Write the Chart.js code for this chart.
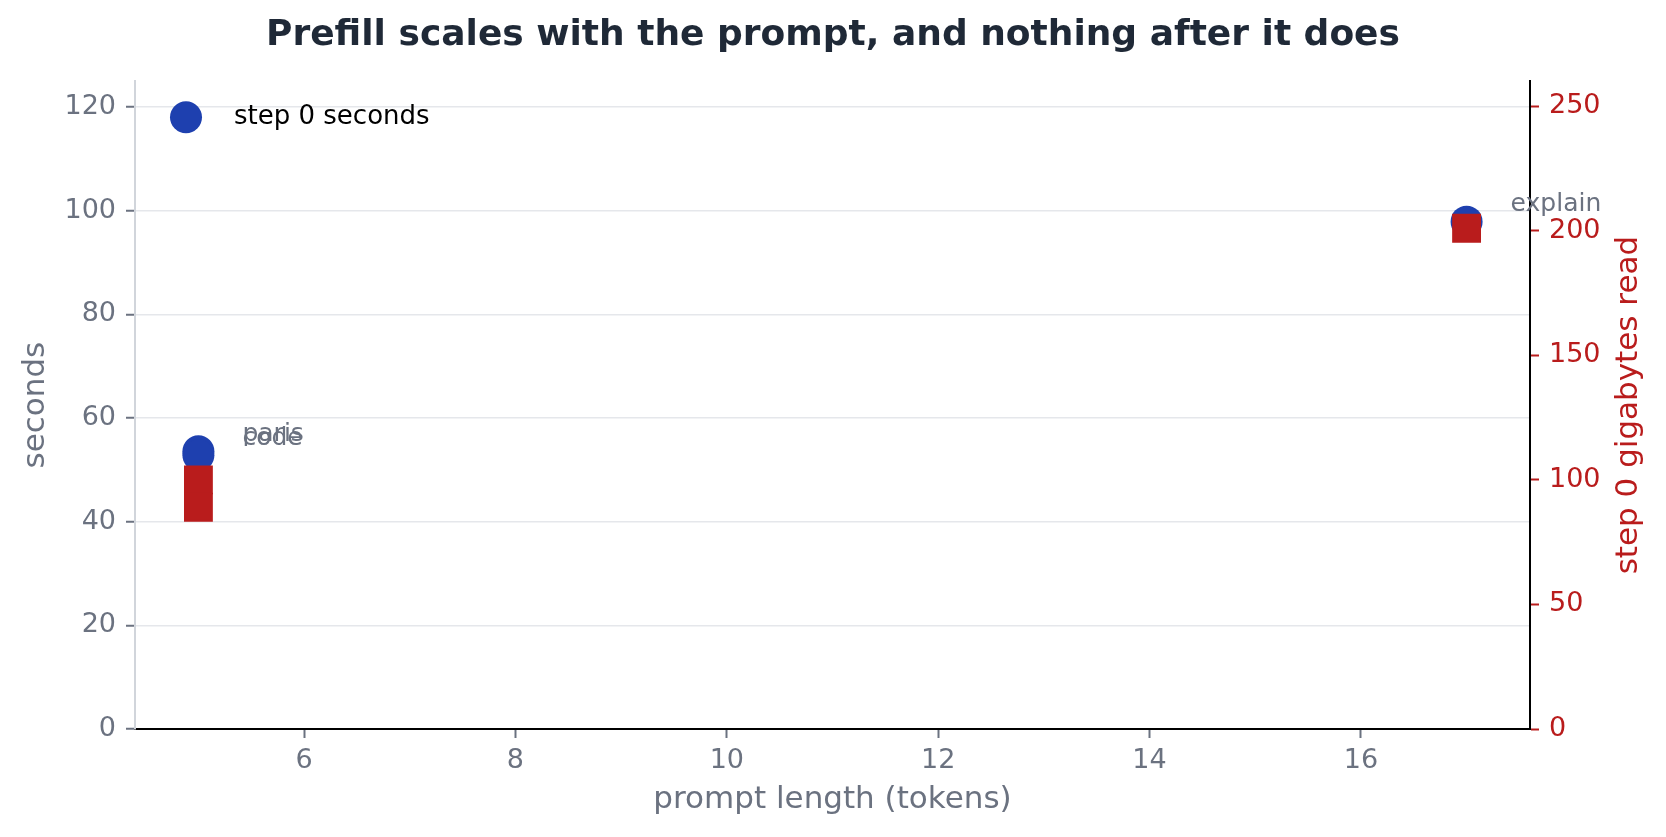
<!DOCTYPE html>
<html>
<head>
<meta charset="utf-8">
<title>Prefill scales with the prompt</title>
<script src="https://cdn.jsdelivr.net/npm/chart.js@4.4.1/dist/chart.umd.min.js"></script>
<style>
  html, body { margin: 0; padding: 0; background: #fff; }
  canvas { display: block; }
</style>
</head>
<body>
<canvas id="chart" width="1666" height="837"></canvas>
<script>
// the three prompts and what step 0 cost for each
const promptNames = ['paris', 'code', 'explain'];
const promptTokens = [5, 5, 17];
const stepSeconds = [53.6, 52.8, 97.9];
const stepGigabytes = [100, 89, 201];

// ticks shown on each axis
const tokenTicks = [6, 8, 10, 12, 14, 16];
const secondTicks = [0, 20, 40, 60, 80, 100, 120];
const gigabyteTicks = [0, 50, 100, 150, 200, 250];

const BLUE = '#1e40af';
const RED = '#b91c1c';
const GREY = '#6b7280';
const FONT = '"DejaVu Sans", "Liberation Sans", sans-serif';

Chart.defaults.font.family = FONT;
Chart.defaults.color = GREY;

const toPoints = (ys) => promptTokens.map((x, i) => ({ x: x, y: ys[i] }));
const fixTicks = (values) => (scale) => { scale.ticks = values.map(v => ({ value: v })); };

// prompt names next to the blue points
const pointNames = {
  id: 'pointNames',
  afterDatasetsDraw(chart) {
    const ctx = chart.ctx;
    const meta = chart.getDatasetMeta(0);
    ctx.save();
    ctx.font = '25px ' + FONT;
    ctx.fillStyle = GREY;
    ctx.textAlign = 'left';
    ctx.textBaseline = 'middle';
    meta.data.forEach((pt, i) => ctx.fillText(promptNames[i], pt.x + 44, pt.y - 17));
    ctx.restore();
  }
};

// legend inside the plot, only the seconds series
const seriesKey = {
  id: 'seriesKey',
  afterDraw(chart) {
    const ctx = chart.ctx;
    const area = chart.chartArea;
    const ds = chart.data.datasets[0];
    const cx = area.left + 51, cy = area.top + 36;
    ctx.save();
    ctx.fillStyle = ds.pointBackgroundColor;
    ctx.beginPath();
    ctx.arc(cx, cy, 16, 0, Math.PI * 2);
    ctx.fill();
    ctx.font = '26px ' + FONT;
    ctx.fillStyle = '#000';
    ctx.textAlign = 'left';
    ctx.textBaseline = 'middle';
    ctx.fillText(ds.label, cx + 48, cy);
    ctx.restore();
  }
};

// right axis title, reading bottom to top
const rightTitle = {
  id: 'rightTitle',
  afterDraw(chart) {
    const ctx = chart.ctx;
    const area = chart.chartArea;
    ctx.save();
    ctx.translate(1629, (area.top + area.bottom) / 2);
    ctx.rotate(-Math.PI / 2);
    ctx.font = '31px ' + FONT;
    ctx.fillStyle = RED;
    ctx.textAlign = 'center';
    ctx.textBaseline = 'middle';
    ctx.fillText(chart.data.datasets[1].label, 0, 0);
    ctx.restore();
  }
};

new Chart(document.getElementById('chart'), {
  type: 'scatter',
  data: {
    datasets: [
      {
        label: 'step 0 seconds',
        data: toPoints(stepSeconds),
        yAxisID: 'y',
        pointStyle: 'circle',
        pointBackgroundColor: BLUE,
        pointBorderColor: BLUE,
        pointBorderWidth: 0,
        pointRadius: 16,
        pointHoverRadius: 16,
        order: 1
      },
      {
        label: 'step 0 gigabytes read',
        data: toPoints(stepGigabytes),
        yAxisID: 'y1',
        pointStyle: 'rect',
        pointBackgroundColor: RED,
        pointBorderColor: RED,
        pointBorderWidth: 2,
        pointRadius: 19,
        pointHoverRadius: 19,
        order: 0
      }
    ]
  },
  options: {
    responsive: false,
    animation: false,
    devicePixelRatio: 1,
    layout: { padding: 0 },
    plugins: {
      legend: { display: false },
      tooltip: { enabled: false },
      title: {
        display: true,
        text: 'Prefill scales with the prompt, and nothing after it does',
        color: '#1f2937',
        font: { size: 36, weight: 'bold' },
        padding: { top: 14, bottom: 24 }
      }
    },
    scales: {
      x: {
        type: 'linear',
        position: 'bottom',
        min: 4.4,
        max: 17.6,
        afterBuildTicks: fixTicks(tokenTicks),
        afterFit: (s) => { s.height = 108; },
        grid: { drawOnChartArea: false, drawTicks: true, tickLength: 9, tickWidth: 2, tickColor: GREY },
        border: { color: '#000', width: 2 },
        ticks: { color: GREY, font: { size: 27 }, padding: 7, maxRotation: 0 },
        title: {
          display: true,
          text: 'prompt length (tokens)',
          color: GREY,
          font: { size: 31 },
          padding: { top: 0, bottom: 18 }
        }
      },
      y: {
        position: 'left',
        min: 0,
        max: 125,
        afterBuildTicks: fixTicks(secondTicks),
        afterFit: (s) => { s.width = 135; },
        grid: {
          color: (c) => (c.tick && c.tick.value === 0 ? 'rgba(0,0,0,0)' : '#e5e7eb'),
          lineWidth: 1.5,
          tickLength: 9,
          tickWidth: 2,
          tickColor: GREY
        },
        border: { color: '#d1d5db', width: 2 },
        ticks: { color: GREY, font: { size: 27 }, padding: 10 },
        title: {
          display: true,
          text: 'seconds',
          color: GREY,
          font: { size: 31 },
          padding: { top: 17, bottom: 0 }
        }
      },
      y1: {
        position: 'right',
        min: 0,
        max: 260,
        afterBuildTicks: fixTicks(gigabyteTicks),
        afterFit: (s) => { s.width = 136; },
        grid: { drawOnChartArea: false, tickLength: 9, tickWidth: 2, tickColor: RED },
        border: { color: '#000', width: 2 },
        ticks: { color: RED, font: { size: 27 }, padding: 10 }
      }
    }
  },
  plugins: [pointNames, seriesKey, rightTitle]
});
</script>
</body>
</html>
